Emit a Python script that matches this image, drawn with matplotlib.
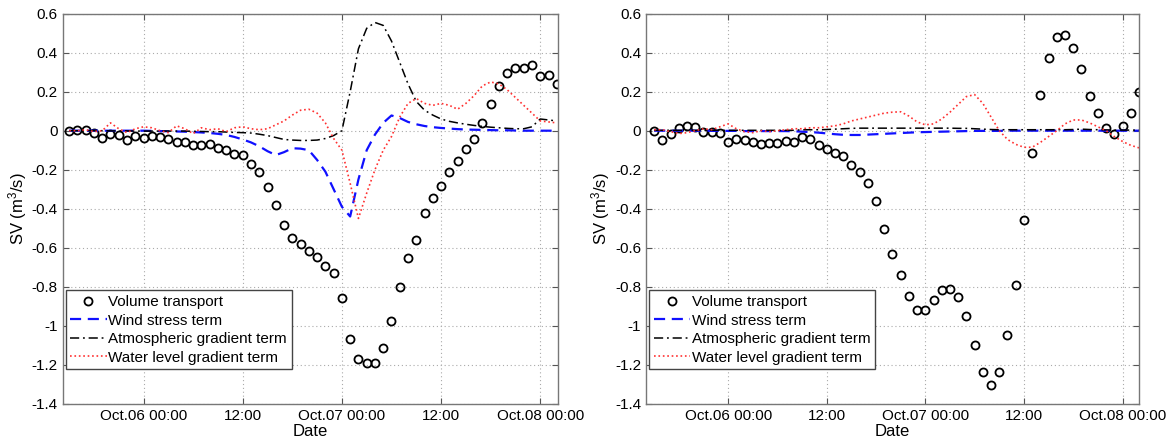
import numpy as np
import matplotlib
matplotlib.use('Agg')
import matplotlib.pyplot as plt

plt.rcParams['font.family'] = ['Liberation Sans', 'DejaVu Sans']
plt.rcParams['mathtext.fontset'] = 'custom'
plt.rcParams['mathtext.rm'] = 'Liberation Sans'
plt.rcParams['mathtext.it'] = 'Liberation Sans'
plt.rcParams['mathtext.default'] = 'regular'

# hours after Oct.06 00:00 (hourly, Oct.05 15:00 -> Oct.08 02:00)
hours = np.arange(-9, 51)

tick_hours = [0, 12, 24, 36, 48]
tick_labels = ["Oct.06 00:00", "12:00", "Oct.07 00:00", "12:00", "Oct.08 00:00"]

# ---- left panel ----
vt_left = [0.0, 0.005, 0.005, -0.01, -0.035, -0.015, -0.02, -0.05, -0.025, -0.04,
           -0.027, -0.03, -0.045, -0.057, -0.058, -0.072, -0.074, -0.067, -0.09, -0.10,
           -0.12, -0.125, -0.17, -0.21, -0.29, -0.38, -0.485, -0.55, -0.583, -0.617,
           -0.65, -0.695, -0.73, -0.856, -1.067, -1.169, -1.19, -1.19, -1.117, -0.978,
           -0.803, -0.652, -0.559, -0.422, -0.343, -0.286, -0.21, -0.157, -0.095, -0.041,
           0.04, 0.138, 0.228, 0.297, 0.32, 0.32, 0.336, 0.28, 0.284, 0.241]
wind_left = [0, 0, 0, 0, 0, 0, 0, 0, 0, 0,
             -0.001, -0.002, -0.003, -0.004, -0.005, -0.007, -0.009, -0.012, -0.016, -0.022,
             -0.032, -0.045, -0.06, -0.08, -0.105, -0.125, -0.11, -0.09, -0.092, -0.1,
             -0.15, -0.21, -0.3, -0.39, -0.44, -0.25, -0.1, -0.02, 0.04, 0.078,
             0.065, 0.045, 0.033, 0.024, 0.018, 0.014, 0.011, 0.008, 0.006, 0.005,
             0.004, 0.003, 0.002, 0.002, 0.001, 0, 0, 0, 0, 0]
atm_left = [0, 0, 0, 0, 0, -0.001, -0.001, -0.001, -0.002, -0.002,
            -0.002, -0.002, -0.002, -0.002, -0.002, -0.003, -0.004, -0.005, -0.005, -0.007,
            -0.009, -0.01, -0.012, -0.018, -0.025, -0.035, -0.045, -0.048, -0.05, -0.05,
            -0.048, -0.04, -0.025, 0.0, 0.2, 0.42, 0.525, 0.555, 0.54, 0.46,
            0.35, 0.24, 0.15, 0.105, 0.08, 0.06, 0.048, 0.04, 0.033, 0.027,
            0.022, 0.018, 0.015, 0.012, 0.01, 0.01, 0.02, 0.06, 0.055, 0.05]
water_left = [0.0, 0.0, 0.005, -0.005, 0.0, 0.04, 0.01, -0.01, 0.01, 0.02,
              0.015, 0.0, -0.01, 0.025, 0.01, -0.015, 0.015, 0.005, 0.01, -0.005,
              0.015, 0.02, 0.01, 0.005, 0.01, 0.03, 0.05, 0.08, 0.105, 0.11,
              0.09, 0.04, -0.04, -0.1, -0.27, -0.45, -0.32, -0.2, -0.1, -0.03,
              0.07, 0.14, 0.165, 0.14, 0.13, 0.14, 0.13, 0.11, 0.14, 0.18,
              0.23, 0.25, 0.24, 0.21, 0.17, 0.13, 0.09, 0.05, 0.045, 0.04]

# ---- right panel ----
vt_right = [-0.003, -0.048, -0.015, 0.014, 0.022, 0.017, -0.007, -0.005, -0.014, -0.057,
            -0.041, -0.05, -0.058, -0.07, -0.065, -0.064, -0.055, -0.057, -0.033, -0.041,
            -0.074, -0.096, -0.113, -0.132, -0.175, -0.211, -0.268, -0.362, -0.502, -0.634,
            -0.741, -0.846, -0.922, -0.922, -0.868, -0.815, -0.812, -0.855, -0.949, -1.097,
            -1.24, -1.302, -1.24, -1.05, -0.789, -0.46, -0.113, 0.182, 0.375, 0.478,
            0.49, 0.424, 0.314, 0.179, 0.089, 0.014, -0.017, 0.022, 0.089, 0.196]
wind_right = [0, 0, 0, 0, 0, 0, 0, -0.001, -0.001, -0.001,
              -0.001, -0.002, -0.002, -0.002, -0.002, -0.002, -0.002, -0.003, -0.005, -0.007,
              -0.01, -0.014, -0.018, -0.021, -0.022, -0.022, -0.02, -0.018, -0.016, -0.014,
              -0.012, -0.01, -0.008, -0.007, -0.006, -0.005, -0.004, -0.003, -0.002, -0.001,
              -0.001, -0.001, -0.001, 0, 0, 0, 0, 0, 0, 0,
              0, 0, 0, 0, 0, 0, 0, 0, 0, 0]
atm_right = [0.002, 0.002, 0.002, 0.002, 0.002, 0.002, 0.002, 0.002, 0.002, 0.002,
             0.002, 0.002, 0.002, 0.002, 0.002, 0.002, 0.002, 0.002, 0.005, 0.005,
             0.005, 0.006, 0.008, 0.01, 0.012, 0.013, 0.013, 0.013, 0.013, 0.013,
             0.013, 0.013, 0.013, 0.013, 0.013, 0.013, 0.013, 0.012, 0.012, 0.01,
             0.008, 0.006, 0.005, 0.005, 0.005, 0.005, 0.005, 0.005, 0.005, 0.005,
             0.005, 0.006, 0.008, 0.006, 0.005, 0.004, 0.003, 0.003, 0.003, 0.003]
water_right = [0.005, 0.005, -0.005, -0.015, -0.01, 0.0, 0.01, 0.005, 0.02, 0.035,
               0.01, -0.005, -0.01, 0.0, -0.005, 0.0, 0.005, 0.01, 0.01, 0.015,
               0.015, 0.02, 0.025, 0.035, 0.05, 0.06, 0.07, 0.08, 0.09, 0.095,
               0.097, 0.075, 0.045, 0.03, 0.035, 0.06, 0.095, 0.135, 0.175, 0.185,
               0.14, 0.07, 0.0, -0.045, -0.07, -0.085, -0.085, -0.06, -0.03, 0.0,
               0.035, 0.055, 0.055, 0.04, 0.02, 0.0, -0.03, -0.055, -0.075, -0.088]

labels = ["Volume transport", "Wind stress term",
          "Atmospheric gradient term", "Water level gradient term"]

fig = plt.figure(figsize=(11.76, 4.42), dpi=100)
ax_left = fig.add_axes([0.0532, 0.0867, 0.4213, 0.8823])
ax_right = fig.add_axes([0.5493, 0.0867, 0.4192, 0.8823])


def draw_panel(ax, vt, wind, atm, water, xlim):
    ax.plot(hours, vt, 'o', mfc='none', mec='black', ms=5.8, mew=1.3, label=labels[0])
    ax.plot(hours, wind, '--', color='#1010ff', lw=1.6, dashes=(5, 3), label=labels[1])
    ax.plot(hours, atm, '-.', color='black', lw=1.1, dashes=(6, 2.5, 1.2, 2.5), label=labels[2])
    ax.plot(hours, water, ':', color='#ff3030', lw=1.2, label=labels[3])

    ax.set_xlim(*xlim)
    ax.set_ylim(-1.4, 0.6)
    ax.set_yticks(np.arange(-1.4, 0.61, 0.2))
    ax.set_yticklabels(["-1.4", "-1.2", "-1", "-0.8", "-0.6", "-0.4", "-0.2", "0", "0.2", "0.4", "0.6"])
    ax.set_xticks(tick_hours)
    ax.set_xticklabels(tick_labels)
    ax.tick_params(direction='in', top=True, right=True, length=4, labelsize=11, color='#555555')
    ax.grid(True, linestyle=(0, (1, 2.5)), color='#aaaaaa', lw=0.8)
    for s in ax.spines.values():
        s.set_color('#777777')
        s.set_linewidth(1.0)
    ax.set_xlabel("Date", fontsize=12, labelpad=1)
    ax.set_ylabel("SV (m$^3$/s)", fontsize=12, labelpad=2)

    leg = ax.legend(loc='lower left', bbox_to_anchor=(0.006, 0.088), borderaxespad=0,
                    fontsize=11, fancybox=False, framealpha=1, edgecolor='#444444',
                    handlelength=2.4, handletextpad=0.1, labelspacing=0.3,
                    borderpad=0.3, numpoints=1)
    leg.get_frame().set_linewidth(1.0)


draw_panel(ax_left, vt_left, wind_left, atm_left, water_left, (-9.8, 50.15))
draw_panel(ax_right, vt_right, wind_right, atm_right, water_right, (-10, 50))

plt.savefig("out.png", dpi=100)
